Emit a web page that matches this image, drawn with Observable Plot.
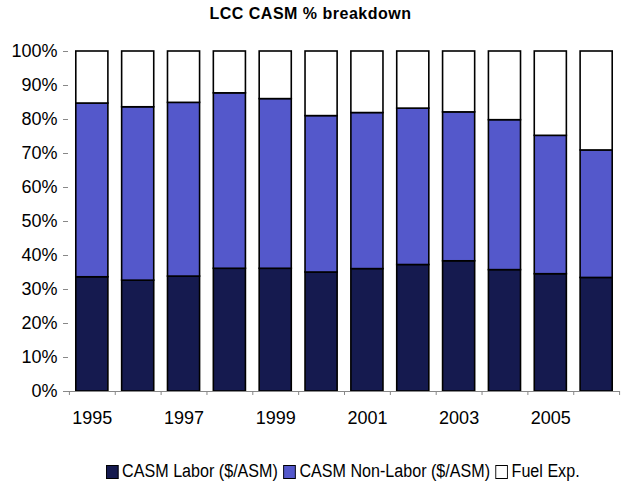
<!DOCTYPE html>
<html>
<head>
<meta charset="utf-8">
<script src="https://cdn.jsdelivr.net/npm/d3@7"></script>
<script src="https://cdn.jsdelivr.net/npm/@observablehq/plot@0.6"></script>
<style>
  html, body { margin: 0; padding: 0; background: #fff; }
  body { width: 621px; height: 495px; position: relative; overflow: hidden;
         font-family: "Liberation Sans", Arial, sans-serif; }
  #title { position: absolute; top: 5px; left: 0; width: 621px; text-align: center;
           font-weight: bold; font-size: 16px; letter-spacing: 0.5px; }
  #chart { position: absolute; top: 40px; left: 0; }
  #legend { position: absolute; top: 461px; left: 106px; font-size: 18px; white-space: nowrap;
            display: flex; align-items: center; transform: scaleX(0.895); transform-origin: 0 50%; }
  .sw { display: inline-block; width: 12px; height: 12px; border: 1px solid #000; margin-right: 4px; }
  .item { display: inline-flex; align-items: center; margin-right: 6px; }
</style>
</head>
<body>
<div id="title">LCC CASM % breakdown</div>
<div id="chart"></div>
<div id="legend"></div>
<script>
const years = [1995, 1996, 1997, 1998, 1999, 2000, 2001, 2002, 2003, 2004, 2005, 2006];
const labor    = [33.6, 32.6, 33.8, 36.1, 36.1, 35.0, 36.0, 37.2, 38.3, 35.7, 34.5, 33.4];
const nonLabor = [51.1, 51.0, 51.1, 51.6, 49.9, 46.0, 45.9, 46.0, 43.8, 44.1, 40.7, 37.5];
const fuel     = [15.3, 16.4, 15.1, 12.3, 14.0, 19.0, 18.1, 16.8, 17.9, 20.2, 24.8, 29.1];
const seriesNames = ["CASM Labor ($/ASM)", "CASM Non-Labor ($/ASM)", "Fuel Exp."];
const seriesColors = ["#151a4f", "#5458cb", "#ffffff"];
const xTickLabels = [1995, 1997, 1999, 2001, 2003, 2005];
const yTicks = [0, 10, 20, 30, 40, 50, 60, 70, 80, 90, 100];

const seriesValues = [labor, nonLabor, fuel];
const rows = [];
seriesNames.forEach((s, k) => years.forEach((y, i) => rows.push({year: y, series: s, value: seriesValues[k][i]})));

const W = 621, ML = 68, MR = 1, PI = 0.3, PO = 0.17;
const step = (W - ML - MR) / (years.length - PI + 2 * PO);

const plot = Plot.plot({
  width: W,
  height: 400,
  marginTop: 11,
  marginBottom: 49,
  marginLeft: ML,
  marginRight: MR,
  style: {fontFamily: '"Liberation Sans", Arial, sans-serif', fontSize: "18px", color: "#000", background: "transparent"},
  x: {type: "band", domain: years, paddingInner: PI, paddingOuter: PO, round: false, label: null, axis: null},
  y: {domain: [0, 100], label: null, axis: null},
  color: {domain: seriesNames, range: seriesColors},
  marks: [
    Plot.barY(rows, Plot.stackY({x: "year", y: "value", fill: "series", z: "series", order: seriesNames, stroke: "#000", strokeWidth: 1.6})),
    Plot.ruleY([0], {stroke: "#888", strokeWidth: 1}),
    Plot.ruleX(years, {x: d => d, y1: 0, y2: 0, dx: -step / 2, insetBottom: -4, stroke: "#888"}),
    Plot.ruleX(years.slice(-1), {x: d => d, y1: 0, y2: 0, dx: step / 2, insetBottom: -4, stroke: "#888"}),
    Plot.axisY({ticks: yTicks, tickFormat: d => d + "%", tickSize: 5, tickPadding: 6, line: true, stroke: "#888", fontSize: 18, fill: "#000"}),
    Plot.axisX({ticks: xTickLabels, tickFormat: d => String(d), tickSize: 0, tickPadding: 20, fontSize: 18, fill: "#000", style: {letterSpacing: "-1px"}})
  ]
});
document.getElementById("chart").appendChild(plot);

const legend = document.getElementById("legend");
seriesNames.forEach((s, k) => {
  const item = document.createElement("span");
  item.className = "item";
  const sw = document.createElement("span");
  sw.className = "sw";
  sw.style.background = seriesColors[k];
  item.appendChild(sw);
  item.appendChild(document.createTextNode(s));
  legend.appendChild(item);
});
</script>
</body>
</html>
